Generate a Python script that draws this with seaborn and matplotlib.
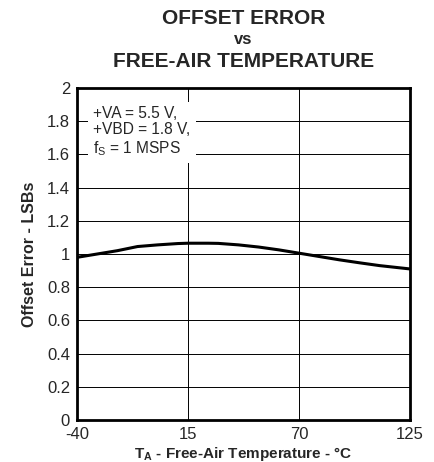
import numpy as np
import pandas as pd
import matplotlib
matplotlib.use("Agg")
from matplotlib import pyplot as plt
import seaborn as sns

# offset error vs temperature
temp = [-40, -30, -20, -10, 0, 10, 15, 25, 30, 40, 50, 60, 70, 80, 90, 100, 110, 125]
offset = [0.98, 1.0, 1.02, 1.045, 1.055, 1.063, 1.065, 1.065, 1.064, 1.055, 1.042, 1.025, 1.005, 0.985, 0.965, 0.947, 0.93, 0.91]
xticks = [-40, 15, 70, 125]
yticks = [0, 0.2, 0.4, 0.6, 0.8, 1, 1.2, 1.4, 1.6, 1.8, 2]

df = pd.DataFrame({"T": temp, "Offset": offset})

sns.set_style("white")
plt.rcParams['font.family'] = ['Liberation Sans', 'DejaVu Sans']
plt.rcParams['axes.unicode_minus'] = False

fig = plt.figure(figsize=(4.35, 4.62), dpi=100)
ax = fig.add_axes([0.177, 0.0909, 0.7655, 0.7186])

sns.lineplot(data=df, x="T", y="Offset", ax=ax, color="black", linewidth=2.2)

ax.set_xlim(-40, 125)
ax.set_ylim(0, 2)
ax.set_xticks(xticks)
ax.set_yticks(yticks)
ax.set_yticklabels([f"{v:g}" for v in yticks])
ax.tick_params(axis="both", labelsize=12, length=0, pad=5)
ax.grid(True, color="black", linewidth=0.7)
for s in ax.spines.values():
    s.set_linewidth(2)
    s.set_color("black")

ax.set_xlabel("T$_\\mathregular{A}$ - Free-Air Temperature - °C", fontsize=11, fontweight="bold", labelpad=2)
ax.set_ylabel("Offset Error - LSBs", fontsize=11.5, fontweight="bold", labelpad=7)

ax.text(-32, 1.89, "+VA = 5.5 V,\n+VBD = 1.8 V,\nf$_\\mathregular{S}$ = 1 MSPS",
        fontsize=11.2, va="top", ha="left", linespacing=1.1,
        bbox=dict(facecolor="white", edgecolor="none", pad=4), zorder=5)

fig.text(0.5596, 0.961, "OFFSET ERROR", ha="center", va="center", fontsize=15, fontweight="bold")
fig.text(0.5596, 0.914, "vs", ha="center", va="center", fontsize=12, fontweight="bold")
fig.text(0.5596, 0.866, "FREE-AIR TEMPERATURE", ha="center", va="center", fontsize=15, fontweight="bold")

fig.savefig("out.png", dpi=100)
